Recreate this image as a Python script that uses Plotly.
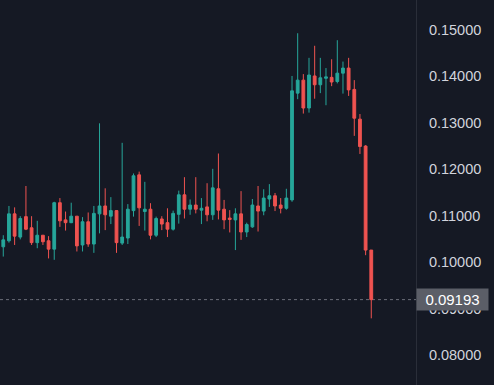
import plotly.graph_objects as go

opens = [0.1033, 0.1046, 0.1104, 0.1054, 0.1098, 0.1074, 0.1042, 0.1058, 0.1046, 0.1028,
         0.1128, 0.1091, 0.1085, 0.1099, 0.1037, 0.1087, 0.1039, 0.1104, 0.1121, 0.1099,
         0.1111, 0.1041, 0.1052, 0.1111, 0.1188, 0.1109, 0.1114, 0.1058, 0.1093, 0.1085,
         0.1071, 0.1103, 0.1145, 0.1114, 0.1123, 0.1112, 0.1119, 0.1102, 0.1158, 0.1114,
         0.1095, 0.1091, 0.1104, 0.1065, 0.1076, 0.1121, 0.1110, 0.1136, 0.1143, 0.1123,
         0.1116, 0.1134, 0.1364, 0.1392, 0.1332, 0.1401, 0.1382, 0.1396, 0.1398, 0.1389,
         0.1407, 0.1418, 0.1372, 0.1308, 0.1250, 0.1026]
highs = [0.1058, 0.1121, 0.1118, 0.1099, 0.1164, 0.1099, 0.1089, 0.1058, 0.1056, 0.1130,
         0.1138, 0.1109, 0.1128, 0.1099, 0.1097, 0.1107, 0.1121, 0.1299, 0.1159, 0.1140,
         0.1112, 0.1257, 0.1125, 0.1191, 0.1195, 0.1173, 0.1127, 0.1098, 0.1099, 0.1116,
         0.1111, 0.1154, 0.1183, 0.1135, 0.1183, 0.1138, 0.1170, 0.1201, 0.1234, 0.1134,
         0.1112, 0.1116, 0.1153, 0.1085, 0.1136, 0.1164, 0.1157, 0.1168, 0.1149, 0.1138,
         0.1158, 0.1401, 0.1493, 0.1405, 0.1440, 0.1466, 0.1440, 0.1418, 0.1437, 0.1478,
         0.1432, 0.1440, 0.1392, 0.1319, 0.1252, 0.1026]
lows = [0.1012, 0.1042, 0.1037, 0.1049, 0.1069, 0.1037, 0.1030, 0.1037, 0.1008, 0.1005,
        0.1076, 0.1068, 0.1084, 0.1023, 0.1023, 0.1033, 0.1020, 0.1062, 0.1069, 0.1082,
        0.1020, 0.1037, 0.1039, 0.1098, 0.1078, 0.1068, 0.1049, 0.1054, 0.1069, 0.1054,
        0.1068, 0.1083, 0.1094, 0.1102, 0.1105, 0.1082, 0.1088, 0.1091, 0.1092, 0.1071,
        0.1064, 0.1026, 0.1048, 0.1054, 0.1074, 0.1066, 0.1101, 0.1119, 0.1110, 0.1105,
        0.1113, 0.1130, 0.1351, 0.1320, 0.1322, 0.1352, 0.1364, 0.1338, 0.1379, 0.1385,
        0.1363, 0.1358, 0.1272, 0.1233, 0.1015, 0.0879]
closes = [0.1048, 0.1104, 0.1056, 0.1094, 0.1071, 0.1042, 0.1058, 0.1044, 0.1028, 0.1128,
          0.1089, 0.1085, 0.1099, 0.1035, 0.1087, 0.1039, 0.1105, 0.1121, 0.1102, 0.1111,
          0.1042, 0.1054, 0.1114, 0.1186, 0.1117, 0.1114, 0.1058, 0.1094, 0.1082, 0.1071,
          0.1105, 0.1145, 0.1114, 0.1123, 0.1114, 0.1116, 0.1102, 0.1160, 0.1112, 0.1091,
          0.1092, 0.1104, 0.1065, 0.1081, 0.1123, 0.1110, 0.1138, 0.1143, 0.1121, 0.1116,
          0.1138, 0.1369, 0.1392, 0.1332, 0.1403, 0.1382, 0.1397, 0.1399, 0.1388, 0.1407,
          0.1418, 0.1371, 0.1310, 0.1249, 0.1026, 0.09193]
x_idx = list(range(len(opens)))
last_price = 0.09193
tick_vals = [0.08, 0.09, 0.10, 0.11, 0.12, 0.13, 0.14, 0.15]

BG = "#151924"
UP = "#26a69a"
DOWN = "#ef5350"

fig = go.Figure()
fig.add_trace(go.Candlestick(
    x=x_idx, open=opens, high=highs, low=lows, close=closes,
    increasing=dict(line=dict(color=UP, width=1), fillcolor=UP),
    decreasing=dict(line=dict(color=DOWN, width=1), fillcolor=DOWN),
    whiskerwidth=0, showlegend=False, hoverinfo="skip",
))

fig.add_shape(type="line", xref="paper", yref="y", x0=0, x1=1,
              y0=last_price, y1=last_price,
              line=dict(color="#6a6d78", width=1, dash="dot"), layer="below")

fig.add_annotation(xref="paper", yref="y", x=1, y=last_price, xanchor="left",
                   yanchor="middle", text=f"{last_price:.5f}", showarrow=False,
                   bgcolor="#5b5e67", font=dict(color="#ffffff", size=15,
                                                family="Liberation Sans, Arial"),
                   width=69, height=19, borderpad=1, align="center")

fig.update_layout(
    width=494, height=385,
    margin=dict(l=0, r=78, t=0, b=0),
    paper_bgcolor=BG, plot_bgcolor=BG,
    xaxis=dict(range=[-0.58, 72.9], visible=False, rangeslider=dict(visible=False),
               showgrid=False, zeroline=False),
    yaxis=dict(side="right", range=[0.07354, 0.15646], tickvals=tick_vals,
               tickformat=".5f", showgrid=False, zeroline=False,
               showline=True, linecolor="#2a2e39", linewidth=1, ticks="",
               ticklabelstandoff=9,
               tickfont=dict(color="#d1d4dc", size=14.5, family="Liberation Sans, Arial")),
)

fig.write_html("out.html", config={"displayModeBar": False},
               post_script="document.body.style.margin='0';document.body.style.overflow='hidden';document.body.style.background='#151924';")
